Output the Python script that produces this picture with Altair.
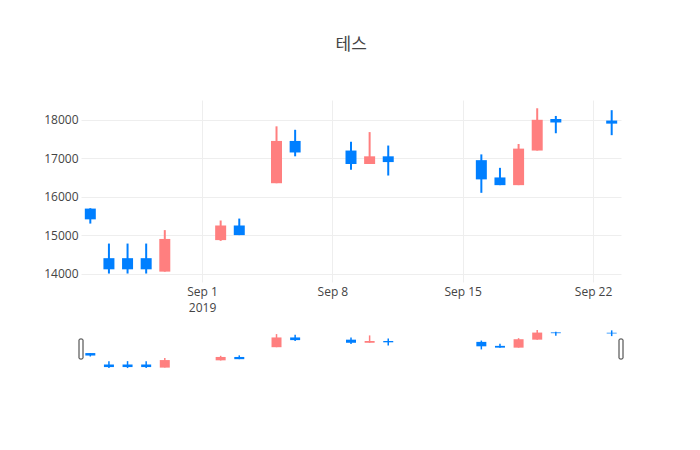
import altair as alt
import pandas as pd

dates = ["2019-08-26", "2019-08-27", "2019-08-28", "2019-08-29", "2019-08-30",
         "2019-09-02", "2019-09-03", "2019-09-05", "2019-09-06",
         "2019-09-09", "2019-09-10", "2019-09-11",
         "2019-09-16", "2019-09-17", "2019-09-18", "2019-09-19", "2019-09-20",
         "2019-09-23"]
opens = [15690, 14400, 14400, 14400, 14050,
         14870, 15250, 16350, 17450,
         17200, 16850, 17050,
         16950, 16500, 16300, 17200, 18020,
         17980]
highs = [15700, 14780, 14780, 14780, 15130,
         15380, 15430, 17830, 17740,
         17430, 17680, 17330,
         17100, 16750, 17370, 18300, 18100,
         18250]
lows = [15300, 14000, 14000, 14000, 14050,
        14850, 15000, 16350, 17050,
        16700, 16850, 16550,
        16100, 16300, 16300, 17200, 17650,
        17600]
closes = [15410, 14110, 14110, 14110, 14900,
          15250, 15000, 17450, 17150,
          16850, 17050, 16900,
          16450, 16300, 17250, 18000, 17930,
          17900]

df = pd.DataFrame({"date": dates, "open": opens, "high": highs,
                   "low": lows, "close": closes})
df["dir"] = ["up" if c >= o else "down" for o, c in zip(opens, closes)]

RED = "#FF7F7F"
BLUE = "#007FFF"
color = alt.Color("dir:N", scale=alt.Scale(domain=["up", "down"], range=[RED, BLUE]), legend=None)

xdom = [alt.DateTime(year=2019, month=8, date=25, hours=12, utc=True),
        alt.DateTime(year=2019, month=9, date=23, hours=12, utc=True)]
tick_vals = [alt.DateTime(year=2019, month=9, date=d, utc=True) for d in (1, 8, 15, 22)]
ydom = [13780, 18515]

label_expr = ("utcFormat(datum.value, '%b %-d') == 'Sep 1' ? ['Sep 1', '2019'] : "
              "utcFormat(datum.value, '%b %-d')")

xscale = alt.Scale(type="utc", domain=xdom, padding=0)
yscale = alt.Scale(domain=ydom, nice=False, zero=False, padding=0)

x_main = alt.X("date:T", scale=xscale,
               axis=alt.Axis(values=tick_vals, labelExpr=label_expr, title=None,
                             ticks=False, domain=False, grid=True, gridColor="#eeeeee",
                             labelFont="Open Sans", labelFontSize=12, labelColor="#444",
                             labelPadding=4, labelLineHeight=16, labelFlush=False))
y_main = alt.Y("low:Q", scale=yscale,
               axis=alt.Axis(values=[14000, 15000, 16000, 17000, 18000], title=None, format="d",
                             ticks=False, domain=False, gridColor="#eeeeee",
                             labelFont="Open Sans", labelFontSize=12, labelColor="#444",
                             labelPadding=3, minExtent=40, maxExtent=40))

base = alt.Chart(df)
wick = base.mark_rule(strokeWidth=2).encode(x=x_main, y=y_main, y2="high:Q", color=color)
body = base.mark_bar(size=11).encode(x=alt.X("date:T", scale=xscale),
                                     y=alt.Y("open:Q", scale=yscale), y2="close:Q", color=color)
main = alt.layer(wick, body).properties(width=540, height=182)

x_sl = alt.X("date:T", scale=xscale, axis=None)
y_sl = alt.Y("low:Q", scale=yscale,
             axis=alt.Axis(labels=False, ticks=False, domain=False, grid=False, title=None,
                           minExtent=40, maxExtent=40))
wick_s = base.mark_rule(strokeWidth=1.5).encode(x=x_sl, y=y_sl, y2="high:Q", color=color)
body_s = base.mark_bar(size=10).encode(x=alt.X("date:T", scale=xscale),
                                       y=alt.Y("open:Q", scale=yscale), y2="close:Q", color=color)
handle_l = alt.Chart(pd.DataFrame({"h": ["left"]})).mark_rect(
    fill="white", stroke="#333", strokeWidth=1, cornerRadius=1).encode(
    x=alt.value(-2), x2=alt.value(2), y=alt.value(11), y2=alt.value(31))
handle_r = alt.Chart(pd.DataFrame({"h": ["right"]})).mark_rect(
    fill="white", stroke="#333", strokeWidth=1, cornerRadius=1).encode(
    x=alt.value(538), x2=alt.value(542), y=alt.value(11), y2=alt.value(31))
slider = alt.layer(wick_s, body_s, handle_l, handle_r).properties(width=540, height=42)

chart = alt.vconcat(main, slider, spacing=15).properties(
    title=alt.TitleParams(text="테스", anchor="middle", fontSize=17, font="Noto Sans CJK KR",
                          color="#444", fontWeight="normal", offset=46, dx=19),
    padding={"left": 33, "top": 28, "right": 10, "bottom": 5}
).configure_view(stroke=None)

chart.save("out.html", embed_options={"renderer": "svg", "actions": False})
